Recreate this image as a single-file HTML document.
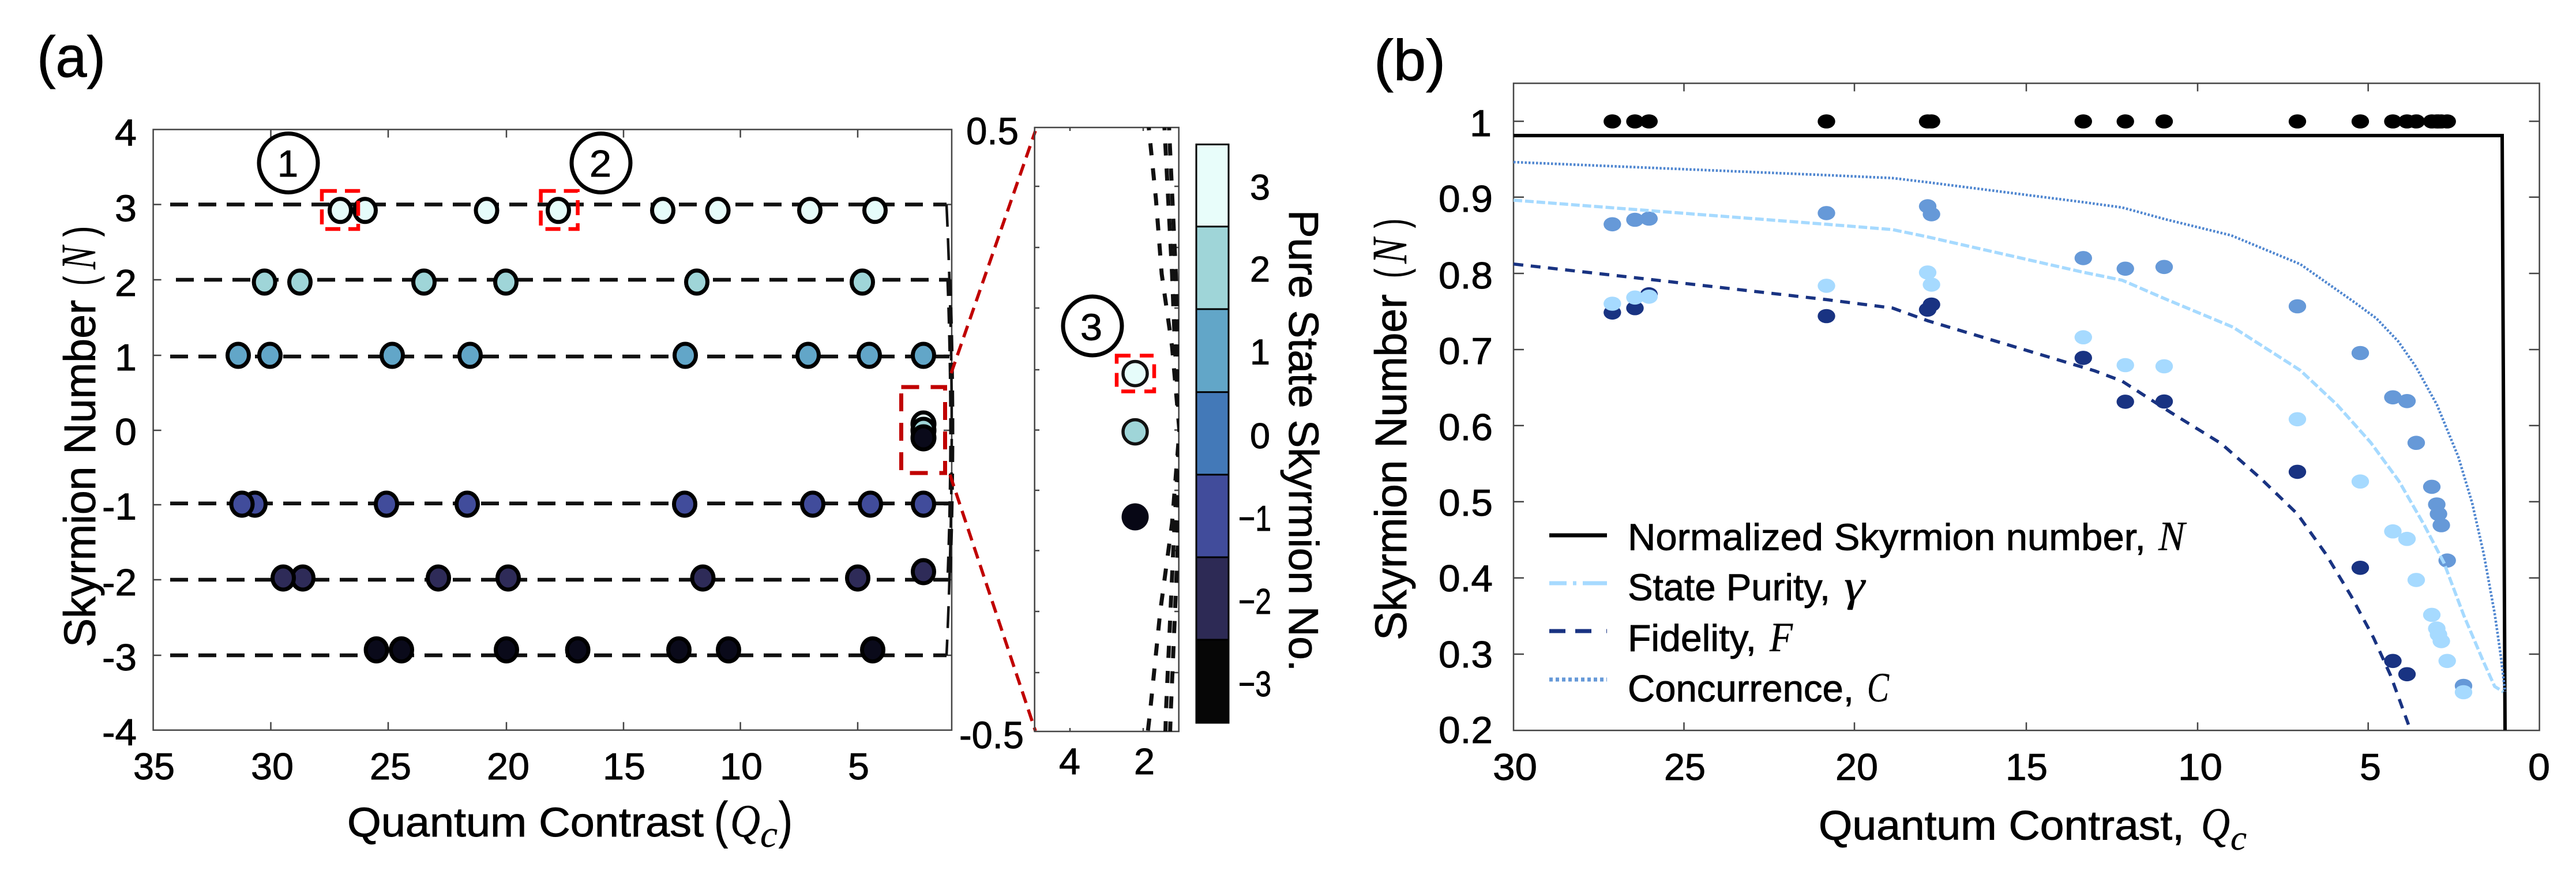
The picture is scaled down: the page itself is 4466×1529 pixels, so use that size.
<!DOCTYPE html>
<html><head><meta charset="utf-8"><style>
html,body{margin:0;padding:0;background:#fff}
svg{display:block}
text{font-family:"Liberation Sans",sans-serif;fill:#000;stroke:#000;stroke-width:0.9}
.a{font-size:65px}
.l{font-size:71px}
.m{font-family:"Liberation Serif",serif;font-style:italic;stroke-width:0.4}
.k{fill:none;stroke:#444;stroke-width:2.5}
.d{fill:none;stroke:#111;stroke-width:6.5;stroke-dasharray:31 18}
.c1{stroke:#000;stroke-width:7}
.rb{fill:none;stroke:#f00;stroke-width:6.5;stroke-dasharray:26 14}
.b{fill:#6699d8}.p{fill:#a6daff}.f{fill:#193382}
.ink{fill:#000}
</style></head><body>
<svg xmlns="http://www.w3.org/2000/svg" width="4466" height="1529" viewBox="0 0 4466 1529">
<rect width="4466" height="1529" fill="#fff"/>
<defs><clipPath id="ic"><rect x="1794" y="221" width="250" height="1047"/></clipPath></defs>

<!-- panel labels -->
<text x="64" y="133" font-size="100" textLength="119" lengthAdjust="spacingAndGlyphs">(a)</text>
<text x="2382" y="139" font-size="100" textLength="124" lengthAdjust="spacingAndGlyphs">(b)</text>

<!-- PANEL A axes -->
<rect class="k" x="265.6" y="224.5" width="1384.4" height="1041.2"/>
<path class="k" d="M469.5 224.5v14M673 224.5v14M878 224.5v14M1081 224.5v14M1283.6 224.5v14M1487 224.5v14M469.5 1265.7v-14M673 1265.7v-14M878 1265.7v-14M1081 1265.7v-14M1283.6 1265.7v-14M1487 1265.7v-14M265.6 354.5h14M265.6 485h14M265.6 616h14M265.6 746h14M265.6 875h14M265.6 1005h14M265.6 1136h14M1650 354.5h-14M1650 485h-14M1650 616h-14M1650 746h-14M1650 875h-14M1650 1005h-14M1650 1136h-14"/>

<!-- dashed rows -->
<g>
<path class="d" d="M295 354.5H1641"/>
<path class="d" d="M305 485H1645"/>
<path class="d" d="M295 618H1646"/>
<path class="d" d="M295 872.7H1646"/>
<path class="d" d="M295 1005H1645"/>
<path class="d" d="M295 1136H1641"/>
<path d="M1641 355Q1659 746 1641 1136" fill="none" stroke="#111" stroke-width="4.5" stroke-dasharray="38 20"/>
<path d="M1645 485Q1655 746 1645 1005" fill="none" stroke="#111" stroke-width="9" stroke-dasharray="28 20"/>
</g>

<!-- dots panel A -->
<g stroke="#000" stroke-width="7" fill="#e6fcfa">
<ellipse cx="633" cy="364.8" rx="18.5" ry="20"/><ellipse cx="590" cy="364.8" rx="18.5" ry="20"/><ellipse cx="843.5" cy="364.8" rx="18.5" ry="20"/><ellipse cx="968" cy="364.8" rx="18.5" ry="20"/><ellipse cx="1149" cy="364.8" rx="18.5" ry="20"/><ellipse cx="1244.6" cy="364.8" rx="18.5" ry="20"/><ellipse cx="1404" cy="364.8" rx="18.5" ry="20"/><ellipse cx="1517" cy="364.8" rx="18.5" ry="20"/>
</g>
<g stroke="#000" stroke-width="7" fill="#9fd5d8">
<ellipse cx="458.6" cy="489" rx="18.5" ry="20"/><ellipse cx="520" cy="489" rx="18.5" ry="20"/><ellipse cx="735" cy="489" rx="18.5" ry="20"/><ellipse cx="877" cy="489" rx="18.5" ry="20"/><ellipse cx="1208" cy="489" rx="18.5" ry="20"/><ellipse cx="1495" cy="489" rx="18.5" ry="20"/>
</g>
<g stroke="#000" stroke-width="7" fill="#62a6c8">
<ellipse cx="413" cy="616" rx="18.5" ry="20"/><ellipse cx="468" cy="616" rx="18.5" ry="20"/><ellipse cx="680" cy="616" rx="18.5" ry="20"/><ellipse cx="815" cy="616" rx="18.5" ry="20"/><ellipse cx="1188" cy="616" rx="18.5" ry="20"/><ellipse cx="1401" cy="616" rx="18.5" ry="20"/><ellipse cx="1507" cy="616" rx="18.5" ry="20"/><ellipse cx="1601" cy="616" rx="18.5" ry="20"/>
</g>
<g stroke="#000" stroke-width="7">
<ellipse cx="1601" cy="735" rx="19" ry="20" fill="#e6fcfa"/><ellipse cx="1601" cy="746" rx="19" ry="20" fill="#9fd5d8"/><ellipse cx="1601" cy="759" rx="19" ry="20" fill="#0a0a1a"/>
</g>
<g stroke="#000" stroke-width="7" fill="#414c9b">
<ellipse cx="442" cy="874" rx="18.5" ry="20"/><ellipse cx="419.5" cy="874" rx="18.5" ry="20"/><ellipse cx="670" cy="874" rx="18.5" ry="20"/><ellipse cx="810" cy="874" rx="18.5" ry="20"/><ellipse cx="1187" cy="874" rx="18.5" ry="20"/><ellipse cx="1409" cy="874" rx="18.5" ry="20"/><ellipse cx="1509" cy="874" rx="18.5" ry="20"/><ellipse cx="1601" cy="874" rx="18.5" ry="20"/>
</g>
<g stroke="#000" stroke-width="7" fill="#2e2b58">
<ellipse cx="525" cy="1002" rx="18.5" ry="20"/><ellipse cx="491" cy="1002" rx="18.5" ry="20"/><ellipse cx="760" cy="1002" rx="18.5" ry="20"/><ellipse cx="881" cy="1002" rx="18.5" ry="20"/><ellipse cx="1218.5" cy="1002" rx="18.5" ry="20"/><ellipse cx="1487" cy="1002" rx="18.5" ry="20"/><ellipse cx="1601" cy="991" rx="18.5" ry="20"/>
</g>
<g stroke="#000" stroke-width="7" fill="#0a0a1a">
<ellipse cx="652.6" cy="1126.6" rx="18.5" ry="20"/><ellipse cx="696" cy="1126.6" rx="18.5" ry="20"/><ellipse cx="878" cy="1126.6" rx="18.5" ry="20"/><ellipse cx="1001.6" cy="1126.6" rx="18.5" ry="20"/><ellipse cx="1177" cy="1126.6" rx="18.5" ry="20"/><ellipse cx="1263" cy="1126.6" rx="18.5" ry="20"/><ellipse cx="1513" cy="1126.6" rx="18.5" ry="20"/>
</g>

<!-- red boxes -->
<rect class="rb" x="558" y="331" width="63" height="66"/>
<rect class="rb" x="937.6" y="331" width="64" height="66"/>
<rect x="1562.5" y="671" width="76" height="149" fill="none" stroke="#c00000" stroke-width="7" stroke-dasharray="31 20"/>
<path d="M1649 647L1795 227M1647 823L1795 1267" fill="none" stroke="#c00000" stroke-width="5.5" stroke-dasharray="21 12"/>

<!-- annotation circles -->
<circle cx="500" cy="282.5" r="51" fill="#fff" class="c1"/>
<text class="a" x="481" y="306" textLength="36" lengthAdjust="spacingAndGlyphs">1</text>
<circle cx="1042" cy="282.5" r="51" fill="#fff" class="c1"/>
<text class="a" x="1022" y="306" textLength="38" lengthAdjust="spacingAndGlyphs">2</text>

<!-- A tick labels -->
<g class="a">
<text x="199" y="252" textLength="38" lengthAdjust="spacingAndGlyphs">4</text>
<text x="199" y="383.5" textLength="38" lengthAdjust="spacingAndGlyphs">3</text>
<text x="199" y="513" textLength="38" lengthAdjust="spacingAndGlyphs">2</text>
<text x="199" y="642" textLength="38" lengthAdjust="spacingAndGlyphs">1</text>
<text x="199" y="771" textLength="38" lengthAdjust="spacingAndGlyphs">0</text>
<text x="177" y="900.5" textLength="60" lengthAdjust="spacingAndGlyphs">-1</text>
<text x="177" y="1032" textLength="60" lengthAdjust="spacingAndGlyphs">-2</text>
<text x="177" y="1162" textLength="60" lengthAdjust="spacingAndGlyphs">-3</text>
<text x="177" y="1291.5" textLength="60" lengthAdjust="spacingAndGlyphs">-4</text>
<text x="231" y="1351" textLength="72" lengthAdjust="spacingAndGlyphs">35</text>
<text x="435" y="1351" textLength="74" lengthAdjust="spacingAndGlyphs">30</text>
<text x="641" y="1351" textLength="72" lengthAdjust="spacingAndGlyphs">25</text>
<text x="844" y="1351" textLength="74" lengthAdjust="spacingAndGlyphs">20</text>
<text x="1045" y="1351" textLength="74" lengthAdjust="spacingAndGlyphs">15</text>
<text x="1248" y="1351" textLength="74" lengthAdjust="spacingAndGlyphs">10</text>
<text x="1470" y="1351" textLength="37" lengthAdjust="spacingAndGlyphs">5</text>
</g>

<!-- A axis titles -->
<text class="l" x="602" y="1450" textLength="618" lengthAdjust="spacingAndGlyphs">Quantum Contrast</text>
<text font-size="88" x="1238" y="1452" textLength="24" lengthAdjust="spacingAndGlyphs">(</text>
<text class="m" font-size="80" x="1266" y="1450" textLength="52" lengthAdjust="spacingAndGlyphs">Q</text>
<text class="m" font-size="66" x="1318" y="1468" textLength="30" lengthAdjust="spacingAndGlyphs">c</text>
<text font-size="88" x="1350" y="1452" textLength="24" lengthAdjust="spacingAndGlyphs">)</text>
<g transform="translate(165,1122) rotate(-90)" font-size="77">
<text x="0" y="0" textLength="602" lengthAdjust="spacingAndGlyphs">Skyrmion Number</text>
<text x="627" y="0" textLength="16" lengthAdjust="spacingAndGlyphs">(</text>
<text class="m" font-size="86" x="655" y="0" textLength="40" lengthAdjust="spacingAndGlyphs">N</text>
<text x="712" y="0" textLength="18" lengthAdjust="spacingAndGlyphs">)</text>
</g>

<!-- INSET -->
<rect class="k" x="1793.7" y="221" width="250" height="1047"/>
<path class="k" d="M1855 221v6M1982 221v6M1855 1268v-6M1982 1268v-6M1794 323h8M1794 429h8M1794 534h8M1794 641h8M1794 745.5h8M1794 850h8M1794 954.5h8M1794 1060h8M1794 1166h8M2044 323h-8M2044 429h-8M2044 534h-8M2044 641h-8M2044 745.5h-8M2044 850h-8M2044 954.5h-8M2044 1060h-8M2044 1166h-8"/>
<g clip-path="url(#ic)" fill="none" stroke="#111" stroke-width="7" stroke-dasharray="21 22.6">
<path d="M1990 205L2004 344.5L2014 474.6L2032 601L2044.7 746L2032 907L2011.5 1060L1993.7 1236L1988 1285"/>
<path d="M2018 205L2032 475L2037 601L2044.7 746L2034.5 945L2021.7 1228L2020 1285"/>
<path d="M2026 205L2038.6 475L2042 601L2044.7 746L2042 945L2030 1228L2028 1285"/>
</g>
<ellipse cx="1968" cy="647.6" rx="21" ry="21" fill="#e6fcfa" stroke="#111" stroke-width="5.5"/>
<ellipse cx="1968" cy="748.6" rx="21" ry="21" fill="#9fd5d8" stroke="#111" stroke-width="5.5"/>
<ellipse cx="1968" cy="896" rx="23.5" ry="23.5" fill="#070715"/>
<rect x="1936" y="616.5" width="65" height="62" fill="none" stroke="#f00" stroke-width="6.5" stroke-dasharray="24 16"/>
<circle cx="1894" cy="565" r="51" fill="#fff" class="c1"/>
<text class="a" x="1873" y="589.5" textLength="38" lengthAdjust="spacingAndGlyphs">3</text>
<text font-size="66" x="1675" y="250" textLength="91" lengthAdjust="spacingAndGlyphs">0.5</text>
<text font-size="66" x="1663" y="1297" textLength="112" lengthAdjust="spacingAndGlyphs">-0.5</text>
<text font-size="64" x="1836" y="1342" textLength="37" lengthAdjust="spacingAndGlyphs">4</text>
<text font-size="64" x="1966" y="1342" textLength="36" lengthAdjust="spacingAndGlyphs">2</text>

<!-- COLORBAR -->
<rect x="2074" y="250.4" width="56" height="142.4" fill="#e8fdfa"/>
<rect x="2074" y="392.8" width="56" height="143.1" fill="#9fd5d8"/>
<rect x="2074" y="535.9" width="56" height="143.8" fill="#62a6c8"/>
<rect x="2074" y="679.7" width="56" height="143.2" fill="#4379b8"/>
<rect x="2074" y="822.9" width="56" height="143.1" fill="#414c9b"/>
<rect x="2074" y="966" width="56" height="143" fill="#2d2a55"/>
<rect x="2074" y="1109" width="56" height="144" fill="#060606"/>
<path d="M2074 250.4H2130V1253H2074ZM2074 392.8h56M2074 535.9h56M2074 679.7h56M2074 822.9h56M2074 966h56M2074 1109h56" fill="none" stroke="#000" stroke-width="3"/>
<g font-size="62">
<text x="2167" y="346" textLength="35" lengthAdjust="spacingAndGlyphs">3</text>
<text x="2167" y="488" textLength="35" lengthAdjust="spacingAndGlyphs">2</text>
<text x="2167" y="631.5" textLength="35" lengthAdjust="spacingAndGlyphs">1</text>
<text x="2167" y="777" textLength="35" lengthAdjust="spacingAndGlyphs">0</text>
<text x="2147" y="920" textLength="57" lengthAdjust="spacingAndGlyphs">−1</text>
<text x="2147" y="1064" textLength="57" lengthAdjust="spacingAndGlyphs">−2</text>
<text x="2147" y="1207" textLength="57" lengthAdjust="spacingAndGlyphs">−3</text>
</g>
<text transform="translate(2235,364) rotate(90)" font-size="72" textLength="800" lengthAdjust="spacingAndGlyphs">Pure State Skyrmion No.</text>

<!-- PANEL B axes -->
<rect class="k" x="2624" y="144.4" width="1778.6" height="1121.8"/>
<path class="k" d="M2919.5 144.4v14M3215 144.4v14M3513 144.4v14M3810 144.4v14M4105.7 144.4v14M2919.5 1266.2v-14M3215 1266.2v-14M3513 1266.2v-14M3810 1266.2v-14M4105.7 1266.2v-14M2624 210.2h18M2624 341.8h18M2624 474h18M2624 606h18M2624 737.8h18M2624 869.7h18M2624 1001.9h18M2624 1134h18M4402.6 210.2h-18M4402.6 341.8h-18M4402.6 474h-18M4402.6 606h-18M4402.6 737.8h-18M4402.6 869.7h-18M4402.6 1001.9h-18M4402.6 1134h-18"/>

<!-- B dots -->
<g class="ink">
<ellipse cx="2795.3" cy="210.5" rx="15.2" ry="12.3"/><ellipse cx="2834.5" cy="210.5" rx="15.2" ry="12.3"/><ellipse cx="2858.8" cy="210.5" rx="15.2" ry="12.3"/><ellipse cx="3166.5" cy="210.5" rx="15.2" ry="12.3"/><ellipse cx="3342" cy="210.5" rx="15.2" ry="12.3"/><ellipse cx="3348.6" cy="210.5" rx="15.2" ry="12.3"/><ellipse cx="3611.8" cy="210.5" rx="15.2" ry="12.3"/><ellipse cx="3684.7" cy="210.5" rx="15.2" ry="12.3"/><ellipse cx="3752" cy="210.5" rx="15.2" ry="12.3"/><ellipse cx="3983" cy="210.5" rx="15.2" ry="12.3"/><ellipse cx="4092" cy="210.5" rx="15.2" ry="12.3"/><ellipse cx="4148.5" cy="210.5" rx="15.2" ry="12.3"/><ellipse cx="4173" cy="210.5" rx="15.2" ry="12.3"/><ellipse cx="4189" cy="210.5" rx="15.2" ry="12.3"/><ellipse cx="4216" cy="210.5" rx="15.2" ry="12.3"/><ellipse cx="4224.6" cy="210.5" rx="15.2" ry="12.3"/><ellipse cx="4227.6" cy="210.5" rx="15.2" ry="12.3"/><ellipse cx="4232.5" cy="210.5" rx="15.2" ry="12.3"/><ellipse cx="4242.7" cy="210.5" rx="15.2" ry="12.3"/>
</g>
<g class="f">
<ellipse cx="2795.3" cy="541.8" rx="15.2" ry="12.3"/><ellipse cx="2834.5" cy="534.2" rx="15.2" ry="12.3"/><ellipse cx="2858.8" cy="510.2" rx="15.2" ry="12.3"/><ellipse cx="3166.5" cy="548" rx="15.2" ry="12.3"/><ellipse cx="3342" cy="536.7" rx="15.2" ry="12.3"/><ellipse cx="3348.6" cy="528" rx="15.2" ry="12.3"/><ellipse cx="3611.8" cy="620.4" rx="15.2" ry="12.3"/><ellipse cx="3684.7" cy="696.4" rx="15.2" ry="12.3"/><ellipse cx="3752" cy="696" rx="15.2" ry="12.3"/><ellipse cx="3983" cy="817.9" rx="15.2" ry="12.3"/><ellipse cx="4092" cy="984.3" rx="15.2" ry="12.3"/><ellipse cx="4148.5" cy="1145.8" rx="15.2" ry="12.3"/><ellipse cx="4173" cy="1168.8" rx="15.2" ry="12.3"/>
</g>
<g class="b">
<ellipse cx="2795.3" cy="388.8" rx="15.2" ry="12.3"/><ellipse cx="2834.5" cy="381" rx="15.2" ry="12.3"/><ellipse cx="2858.8" cy="379" rx="15.2" ry="12.3"/><ellipse cx="3166.5" cy="369.4" rx="15.2" ry="12.3"/><ellipse cx="3342" cy="357.6" rx="15.2" ry="12.3"/><ellipse cx="3348.6" cy="371.4" rx="15.2" ry="12.3"/><ellipse cx="3611.8" cy="447.4" rx="15.2" ry="12.3"/><ellipse cx="3684.7" cy="465.8" rx="15.2" ry="12.3"/><ellipse cx="3752" cy="462.8" rx="15.2" ry="12.3"/><ellipse cx="3983" cy="531" rx="15.2" ry="12.3"/><ellipse cx="4092" cy="612" rx="15.2" ry="12.3"/><ellipse cx="4148.5" cy="688.8" rx="15.2" ry="12.3"/><ellipse cx="4173" cy="695.3" rx="15.2" ry="12.3"/><ellipse cx="4189" cy="767.7" rx="15.2" ry="12.3"/><ellipse cx="4216" cy="843.9" rx="15.2" ry="12.3"/><ellipse cx="4224.6" cy="874.5" rx="15.2" ry="12.3"/><ellipse cx="4227.6" cy="891" rx="15.2" ry="12.3"/><ellipse cx="4232.5" cy="910.5" rx="15.2" ry="12.3"/><ellipse cx="4242.7" cy="971.7" rx="15.2" ry="12.3"/><ellipse cx="4271" cy="1189" rx="15.2" ry="12.3"/>
</g>
<g class="p">
<ellipse cx="2795.3" cy="526.5" rx="15.2" ry="12.3"/><ellipse cx="2834.5" cy="515.8" rx="15.2" ry="12.3"/><ellipse cx="2858.8" cy="514.3" rx="15.2" ry="12.3"/><ellipse cx="3166.5" cy="495.4" rx="15.2" ry="12.3"/><ellipse cx="3342" cy="472.4" rx="15.2" ry="12.3"/><ellipse cx="3348.6" cy="493.4" rx="15.2" ry="12.3"/><ellipse cx="3611.8" cy="584.7" rx="15.2" ry="12.3"/><ellipse cx="3684.7" cy="633" rx="15.2" ry="12.3"/><ellipse cx="3752" cy="635" rx="15.2" ry="12.3"/><ellipse cx="3983" cy="726.8" rx="15.2" ry="12.3"/><ellipse cx="4092" cy="834.7" rx="15.2" ry="12.3"/><ellipse cx="4148.5" cy="921.2" rx="15.2" ry="12.3"/><ellipse cx="4173" cy="934.2" rx="15.2" ry="12.3"/><ellipse cx="4189" cy="1005.4" rx="15.2" ry="12.3"/><ellipse cx="4216" cy="1065.9" rx="15.2" ry="12.3"/><ellipse cx="4224.6" cy="1089.6" rx="15.2" ry="12.3"/><ellipse cx="4227.6" cy="1100" rx="15.2" ry="12.3"/><ellipse cx="4232.5" cy="1111.4" rx="15.2" ry="12.3"/><ellipse cx="4242.7" cy="1145.8" rx="15.2" ry="12.3"/><ellipse cx="4271" cy="1200" rx="15.2" ry="12.3"/>
</g>

<!-- B curves -->
<path d="M2624 235H4338L4343 1266" fill="none" stroke="#000" stroke-width="6"/>
<path d="M2624 281L3166.5 303.6L3281 308.7L3342 316L3612 350.5L3679 359.7L3753.5 380L3868 408L3988 458L4084 525.5L4120 552L4158 592L4188.5 636L4225 702L4262 792L4286 872L4306 960L4325 1063.6L4335 1132.5L4343 1199" fill="none" stroke="#4f86d0" stroke-width="4.5" stroke-dasharray="3.5 3"/>
<path d="M2624 347L3166.5 388.8L3281 398L3342 410.7L3612 472L3679 485.7L3753.5 518L3871 567L3988 642L4052 702L4110 767L4159 834L4203 910.5L4237 975.5L4271.5 1067L4306 1148L4325 1190L4340 1199.4" fill="none" stroke="#a6daff" stroke-width="5.5" stroke-dasharray="15 5"/>
<path d="M2624 457.7L2822 480L3166.5 519.4L3281 534L3342 556L3632 643L3679 660.7L3763.5 715L3851 769L3920 830L3983 891L4032 960L4076 1033L4115 1105.6L4144.5 1170.7L4179 1265.6" fill="none" stroke="#193382" stroke-width="5.5" stroke-dasharray="17 13"/>

<!-- B tick labels -->
<g font-size="65">
<text x="2548" y="236" textLength="38" lengthAdjust="spacingAndGlyphs">1</text>
<text x="2494" y="367" textLength="94" lengthAdjust="spacingAndGlyphs">0.9</text>
<text x="2494" y="500" textLength="94" lengthAdjust="spacingAndGlyphs">0.8</text>
<text x="2494" y="631" textLength="94" lengthAdjust="spacingAndGlyphs">0.7</text>
<text x="2494" y="763" textLength="94" lengthAdjust="spacingAndGlyphs">0.6</text>
<text x="2494" y="894" textLength="94" lengthAdjust="spacingAndGlyphs">0.5</text>
<text x="2494" y="1025" textLength="94" lengthAdjust="spacingAndGlyphs">0.4</text>
<text x="2494" y="1157" textLength="94" lengthAdjust="spacingAndGlyphs">0.3</text>
<text x="2494" y="1288" textLength="94" lengthAdjust="spacingAndGlyphs">0.2</text>
<text x="2588" y="1352" textLength="77" lengthAdjust="spacingAndGlyphs">30</text>
<text x="2885" y="1352" textLength="72" lengthAdjust="spacingAndGlyphs">25</text>
<text x="3182" y="1352" textLength="74" lengthAdjust="spacingAndGlyphs">20</text>
<text x="3477" y="1352" textLength="73" lengthAdjust="spacingAndGlyphs">15</text>
<text x="3776" y="1352" textLength="77" lengthAdjust="spacingAndGlyphs">10</text>
<text x="4091" y="1352" textLength="37" lengthAdjust="spacingAndGlyphs">5</text>
<text x="4383" y="1352" textLength="38" lengthAdjust="spacingAndGlyphs">0</text>
</g>

<!-- B axis titles -->
<text class="l" x="3153" y="1455.5" textLength="634" lengthAdjust="spacingAndGlyphs">Quantum Contrast,</text>
<text class="m" font-size="80" x="3816" y="1455.5" textLength="50" lengthAdjust="spacingAndGlyphs">Q</text>
<text class="m" font-size="60" x="3867" y="1473" textLength="28" lengthAdjust="spacingAndGlyphs">c</text>
<g transform="translate(2438,1110) rotate(-90)" font-size="77">
<text x="0" y="0" textLength="600" lengthAdjust="spacingAndGlyphs">Skyrmion Number</text>
<text x="628" y="0" textLength="16" lengthAdjust="spacingAndGlyphs">(</text>
<text class="m" font-size="86" x="653" y="0" textLength="44" lengthAdjust="spacingAndGlyphs">N</text>
<text x="715" y="0" textLength="16" lengthAdjust="spacingAndGlyphs">)</text>
</g>

<!-- Legend -->
<path d="M2686 928H2786" stroke="#000" stroke-width="7" fill="none"/>
<path d="M2686 1011H2786" stroke="#a6daff" stroke-width="7" fill="none" stroke-dasharray="30 11 6 11 42"/>
<path d="M2686 1094H2786" stroke="#193382" stroke-width="7" fill="none" stroke-dasharray="28 17 28 26 2"/>
<path d="M2686 1178H2786" stroke="#6699d8" stroke-width="7" fill="none" stroke-dasharray="6 5"/>
<g font-size="65">
<text x="2822" y="953.7" textLength="898" lengthAdjust="spacingAndGlyphs">Normalized Skyrmion number,</text>
<text class="m" font-size="72" x="3742" y="953.7" textLength="46" lengthAdjust="spacingAndGlyphs">N</text>
<text x="2822" y="1040.6" textLength="351" lengthAdjust="spacingAndGlyphs">State Purity,</text>
<text class="m" font-size="76" x="3197" y="1040.6" textLength="36" lengthAdjust="spacingAndGlyphs">γ</text>
<text x="2822" y="1128.6" textLength="223" lengthAdjust="spacingAndGlyphs">Fidelity,</text>
<text class="m" font-size="72" x="3068" y="1128.6" textLength="40" lengthAdjust="spacingAndGlyphs">F</text>
<text x="2822" y="1216" textLength="392" lengthAdjust="spacingAndGlyphs">Concurrence,</text>
<text class="m" font-size="72" x="3237" y="1216" textLength="38" lengthAdjust="spacingAndGlyphs">C</text>
</g>
</svg>
</body></html>
